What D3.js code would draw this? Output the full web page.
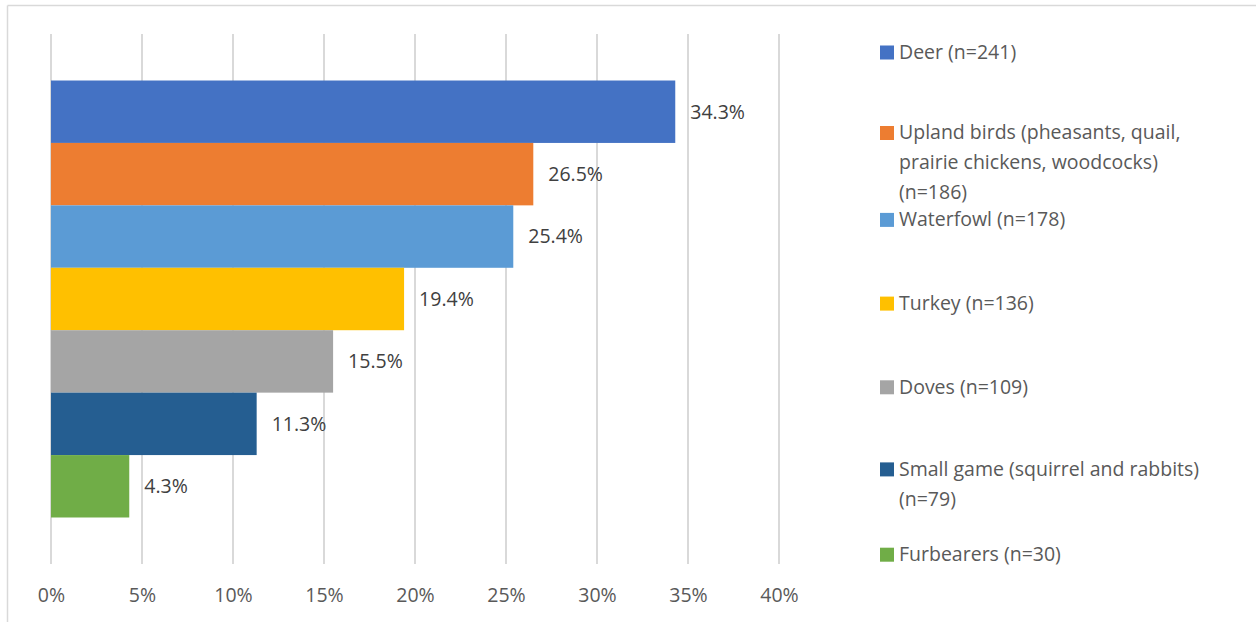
<!DOCTYPE html>
<html>
<head>
<meta charset="utf-8">
<script src="https://cdn.jsdelivr.net/npm/d3@7/dist/d3.min.js"></script>
<style>
  html, body { margin: 0; padding: 0; background: #fff; }
  svg { display: block; font-family: "Open Sans", Lato, sans-serif; }
</style>
</head>
<body>
<svg id="chart" width="1256" height="622"></svg>
<script>
// Share of respondents by game type hunted
const categories = [
  "Deer (n=241)",
  "Upland birds (pheasants, quail, prairie chickens, woodcocks) (n=186)",
  "Waterfowl (n=178)",
  "Turkey (n=136)",
  "Doves (n=109)",
  "Small game (squirrel and rabbits) (n=79)",
  "Furbearers (n=30)"
];
const legendLines = [
  ["Deer (n=241)"],
  ["Upland birds (pheasants, quail,", "prairie chickens, woodcocks)", "(n=186)"],
  ["Waterfowl (n=178)"],
  ["Turkey (n=136)"],
  ["Doves (n=109)"],
  ["Small game (squirrel and rabbits)", "(n=79)"],
  ["Furbearers (n=30)"]
];
const values = [34.3, 26.5, 25.4, 19.4, 15.5, 11.3, 4.3];
const colors = ["#4472C4", "#ED7D31", "#5B9BD5", "#FFC000", "#A5A5A5", "#255E91", "#70AD47"];
const tickValues = [0, 5, 10, 15, 20, 25, 30, 35, 40];

const fontSize = 19.5;
const svg = d3.select("#chart");

// chart frame (top and left edges visible)
svg.append("line").attr("x1", 7.5).attr("x2", 1256).attr("y1", 5.5).attr("y2", 5.5)
  .attr("stroke", "#d9d9d9").attr("stroke-width", 1.5);
svg.append("line").attr("x1", 7.5).attr("x2", 7.5).attr("y1", 5.5).attr("y2", 622)
  .attr("stroke", "#d9d9d9").attr("stroke-width", 1.5);

const plot = { left: 51, right: 779, top: 34, bottom: 564 };

const x = d3.scaleLinear().domain([0, 40]).range([plot.left, plot.right]);
const y = d3.scaleBand().domain(categories).range([plot.top, plot.bottom])
  .paddingInner(0).paddingOuter(0.745);

// vertical gridlines
svg.append("g").selectAll("line").data(tickValues).join("line")
  .attr("x1", d => x(d)).attr("x2", d => x(d))
  .attr("y1", plot.top).attr("y2", plot.bottom)
  .attr("stroke", "#d9d9d9").attr("stroke-width", 2);

// x axis labels
const xAxis = d3.axisBottom(x).tickValues(tickValues).tickFormat(d => d + "%").tickSize(0).tickPadding(0);
const ax = svg.append("g").attr("transform", `translate(0,${plot.bottom})`).call(xAxis);
ax.select(".domain").remove();
ax.selectAll("text")
  .attr("y", 31).attr("dy", "0.35em")
  .attr("fill", "#595959").attr("font-size", fontSize)
  .attr("font-family", "'Open Sans', sans-serif");

// bars
svg.append("g").selectAll("rect").data(values).join("rect")
  .attr("x", x(0))
  .attr("y", (d, i) => y(categories[i]))
  .attr("width", d => x(d) - x(0))
  .attr("height", y.bandwidth())
  .attr("fill", (d, i) => colors[i]);

// value labels
svg.append("g").selectAll("text").data(values).join("text")
  .attr("x", d => x(d) + 15)
  .attr("y", (d, i) => y(categories[i]) + y.bandwidth() / 2)
  .attr("dy", "0.35em")
  .attr("fill", "#404040").attr("font-size", fontSize)
  .text(d => d.toFixed(1) + "%");

// legend: entries on an even step, long entries wrap and nudge upward
const legendTop = 52, legendStep = 83.7, lineH = 30;
const lg = svg.append("g");
legendLines.forEach((lines, i) => {
  const cy = legendTop + i * legendStep - (lines.length - 1) * 1.6;
  lg.append("rect").attr("x", 880).attr("y", cy - 6.5).attr("width", 14).attr("height", 14)
    .attr("fill", colors[i]);
  const t = lg.append("text").attr("fill", "#595959").attr("font-size", fontSize);
  lines.forEach((ln, j) => {
    t.append("tspan").attr("x", 899).attr("y", cy + j * lineH).attr("dy", "0.35em").text(ln);
  });
});
</script>
</body>
</html>
